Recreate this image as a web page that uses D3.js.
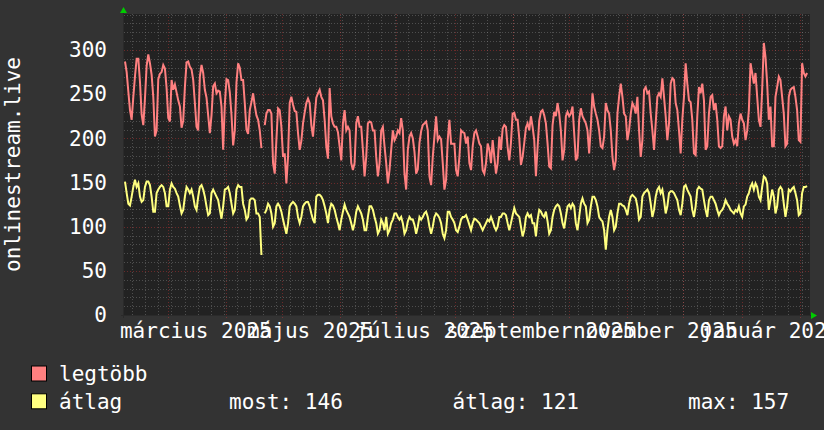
<!DOCTYPE html>
<html><head><meta charset="utf-8">
<script src="https://cdn.jsdelivr.net/npm/d3@7/dist/d3.min.js"></script>
<style>html,body{margin:0;padding:0;background:#333333;} svg{display:block}</style>
</head><body>
<svg id="chart" width="824" height="430"></svg>
<script>
// ---------- data ----------
const yAxisTitle = "onlinestream.live";
const seriesNames = ["legtöbb", "átlag"];
const seriesColors = ["#ff8080", "#ffff80"];
const labelMonths = ["2025-03-01", "2025-05-01", "2025-07-01", "2025-09-01", "2025-11-01", "2026-01-01"];
const monthLabels = ["március 2025", "május 2025", "július 2025", "szeptember 2025", "november 2025", "január 2026"];
const yTicks = [0, 50, 100, 150, 200, 250, 300];
const statLabels = ["most: 146", "átlag: 121", "max: 157"];
const timeStart = "2025-02-05T16:48";
const timeEnd = "2026-02-06T11:45";
const firstSample = "2025-02-06T05:36";
const stepHours = 21.29;

const maxValues = [
 287,275,253,232,221,247,270,290,290,264,227,215,245,282,295,285,272,247,202,209,
 267,273,275,283,279,257,223,219,266,255,261,252,243,236,212,220,258,286,287,281,
 278,266,240,213,209,270,283,274,255,246,226,206,226,259,262,251,254,253,236,187,
 238,267,266,252,227,192,209,263,285,280,266,266,240,210,205,232,241,251,237,226,
 221,209,189,null,215,228,232,232,228,172,160,198,234,232,213,179,183,149,179,240,
 247,238,231,230,206,187,197,217,229,240,245,240,215,202,225,246,251,255,247,243,
 221,191,177,257,225,217,213,213,207,191,175,217,232,209,213,209,172,164,172,217,
 225,213,213,187,157,179,217,219,218,209,209,179,157,172,209,213,191,172,149,164,
 187,209,198,
 202,209,206,223,209,160,142,187,202,206,200,185,160,165,195,208,215,217,219,209,
 157,147,179,202,225,198,202,199,172,142,153,198,221,194,194,194,164,157,179,209,
 207,206,194,202,172,164,191,206,209,202,194,191,164,160,172,194,187,172,198,179,
 160,172,202,187,211,215,213,190,175,195,228,229,221,221,200,170,179,195,212,217,
 209,225,213,
 198,157,190,220,230,232,226,217,194,168,166,215,230,225,240,228,209,175,187,225,
 230,225,228,236,206,175,179,221,234,225,221,217,209,183,213,251,236,228,221,209,
 191,189,202,240,232,228,209,179,164,175,228,247,262,247,228,225,198,209,228,240,
 236,228,247,209,179,198,255,258,251,253,228,209,187,217,247,251,247,268,247,225,
 198,217,262,
 268,266,240,232,209,183,221,247,285,262,243,241,221,183,181,225,258,251,262,243,
 187,191,228,247,249,232,240,221,191,189,191,225,236,209,225,221,202,194,198,191,
 217,228,221,217,198,209,232,285,274,262,274,247,221,213,255,308,292,262,221,236,
 191,191,247,258,270,266,247,228,191,194,247,255,257,258,247,232,198,196,285,274,
 270,274
];

const avgValues = [
 151,138,126,124,134,145,153,145,149,134,128,130,145,151,151,147,134,117,117,138,
 142,145,147,145,138,123,123,142,149,145,143,138,134,124,115,119,134,145,142,138,
 142,134,123,119,134,145,147,142,134,123,113,115,138,142,138,134,130,119,109,123,
 142,143,145,138,126,115,119,142,147,145,145,126,119,108,111,130,132,132,130,115,
 115,111,68,null,115,119,126,123,115,100,104,123,126,123,117,108,100,92,104,123,
 126,128,126,123,111,104,111,123,126,128,128,123,115,108,104,134,136,136,134,130,
 123,115,104,119,126,124,119,111,104,96,108,117,125,119,115,111,104,96,104,117,
 123,119,115,108,96,96,111,123,123,119,111,104,92,96,108,104,96,111,92,96,
 104,108,115,
 115,111,108,111,104,92,96,106,111,108,108,102,92,100,111,108,111,115,117,111,
 100,92,100,111,115,113,110,104,92,87,96,117,117,111,108,104,96,94,100,108,
 111,111,113,108,102,96,104,109,108,106,104,100,96,100,104,108,106,111,106,100,
 96,100,111,111,115,115,113,104,96,104,113,121,115,113,111,100,89,96,111,115,
 111,113,104,
 104,89,108,119,117,113,111,117,106,92,96,111,119,123,125,123,115,104,98,111,
 123,125,121,126,123,104,96,111,126,132,126,123,104,108,123,134,134,130,123,111,
 108,106,96,74,96,111,119,111,96,100,115,126,126,124,123,119,113,126,134,136,
 134,132,123,108,111,134,138,140,142,138,126,111,119,134,142,145,138,142,130,115,
 123,138,140,
 140,138,134,130,119,113,126,145,147,142,138,134,119,111,123,142,145,143,142,130,
 119,111,130,134,134,130,126,119,113,117,119,123,130,126,123,119,117,115,119,117,
 123,115,111,123,125,134,138,145,149,142,149,145,134,130,145,157,155,149,119,130,
 142,134,115,123,142,145,142,126,111,123,142,140,143,145,138,130,113,115,138,145,
 145,146
];

// ---------- layout ----------
const W = 824, H = 430;
const plot = {left: 124, right: 810, top: 14, bottom: 315};
const FONT = "'DejaVu Sans Mono', monospace";
const svg = d3.select("#chart");

const x = d3.scaleTime()
  .domain([new Date(timeStart), new Date(timeEnd)])
  .range([plot.left, plot.right]);
const y = d3.scaleLinear().domain([0, 300]).range([plot.bottom, 50]);
const yTop = y.invert(plot.top);

svg.append("rect").attr("width", W).attr("height", H).attr("fill", "#333333");
svg.append("rect").attr("x", plot.left).attr("y", plot.top)
  .attr("width", plot.right - plot.left).attr("height", plot.bottom - plot.top)
  .attr("fill", "#222222");

const grid = svg.append("g").attr("shape-rendering", "crispEdges");
const minorColor = "rgba(140,140,140,0.42)";
const majorColor = "rgba(255,60,60,0.33)";

// horizontal minor (every 10)
grid.selectAll(".hmin").data(d3.range(10, yTop, 10).filter(v => v % 50 !== 0))
  .join("line").attr("x1", plot.left).attr("x2", plot.right)
  .attr("y1", d => Math.round(y(d)) + 0.5).attr("y2", d => Math.round(y(d)) + 0.5)
  .attr("stroke", minorColor).attr("stroke-dasharray", "1,2");
// vertical minor (weeks)
const weeks = d3.timeMonday.range(x.domain()[0], x.domain()[1]);
grid.selectAll(".vmin").data(weeks).join("line")
  .attr("x1", d => Math.round(x(d)) + 0.5).attr("x2", d => Math.round(x(d)) + 0.5)
  .attr("y1", plot.top).attr("y2", plot.bottom)
  .attr("stroke", minorColor).attr("stroke-dasharray", "1,2");
// horizontal major
grid.selectAll(".hmaj").data(yTicks.filter(v => v > 0))
  .join("line").attr("x1", plot.left).attr("x2", plot.right)
  .attr("y1", d => Math.round(y(d)) + 0.5).attr("y2", d => Math.round(y(d)) + 0.5)
  .attr("stroke", majorColor).attr("stroke-dasharray", "1,2");
// vertical major (months)
const months = d3.timeMonth.range(x.domain()[0], x.domain()[1]);
grid.selectAll(".vmaj").data(months).join("line")
  .attr("x1", d => Math.round(x(d)) + 0.5).attr("x2", d => Math.round(x(d)) + 0.5)
  .attr("y1", plot.top).attr("y2", plot.bottom + 3)
  .attr("stroke", majorColor).attr("stroke-dasharray", "1,2");

// ---------- series ----------
const t0 = new Date(firstSample).getTime();
const toPoints = vals => vals.map((v, i) => ({t: new Date(t0 + i * stepHours * 3600e3), v}));
const line = d3.line().defined(d => d.v !== null).x(d => x(d.t)).y(d => y(d.v));
[maxValues, avgValues].forEach((vals, i) => {
  svg.append("path").datum(toPoints(vals))
    .attr("d", line).attr("fill", "none")
    .attr("stroke", seriesColors[i]).attr("stroke-width", 2)
    .attr("stroke-linejoin", "miter");
});

// ---------- axes ----------
svg.append("line").attr("x1", plot.left - 3).attr("x2", plot.right + 3)
  .attr("y1", plot.bottom + 0.5).attr("y2", plot.bottom + 0.5).attr("stroke", "#2a2a2a");
svg.append("line").attr("x1", plot.left - 0.5).attr("x2", plot.left - 0.5)
  .attr("y1", plot.bottom + 3).attr("y2", plot.top - 4).attr("stroke", "#2a2a2a");
// arrows
svg.append("path").attr("fill", "#00cc00")
  .attr("d", `M${plot.left - 4},${plot.top - 1} L${plot.left + 3},${plot.top - 1} L${plot.left - 0.5},${plot.top - 7} Z`);
svg.append("path").attr("fill", "#00cc00")
  .attr("d", `M${plot.right + 1},${plot.bottom - 3} L${plot.right + 1},${plot.bottom + 4} L${plot.right + 7},${plot.bottom + 0.5} Z`);

// y tick labels
svg.append("g").selectAll("text").data(yTicks).join("text")
  .attr("x", 107).attr("y", d => y(d) + 7.3)
  .attr("text-anchor", "end").attr("fill", "#ffffff")
  .attr("font-family", FONT).attr("font-size", 21)
  .text(d => d);

// x labels (centred mid-month)
svg.append("g").selectAll("text").data(labelMonths).join("text")
  .attr("x", (d) => x(d3.timeDay.offset(new Date(d + "T00:00"), 15)))
  .attr("y", 338)
  .attr("text-anchor", "middle").attr("fill", "#ffffff")
  .attr("font-family", FONT).attr("font-size", 21)
  .text((d, i) => monthLabels[i]);

// y title
svg.append("text")
  .attr("transform", `translate(19.5,${(plot.top + plot.bottom) / 2}) rotate(-90)`)
  .attr("text-anchor", "middle").attr("fill", "#ffffff")
  .attr("font-family", FONT).attr("font-size", 21)
  .text(yAxisTitle);

// legend
const legendRows = [373.5, 401.3];
seriesNames.forEach((name, i) => {
  svg.append("rect").attr("x", 31.5).attr("y", legendRows[i] - 7.5)
    .attr("width", 15).attr("height", 15)
    .attr("fill", seriesColors[i]).attr("stroke", "#000000").attr("stroke-width", 1);
  svg.append("text").attr("x", 59).attr("y", legendRows[i] + 7.5)
    .attr("fill", "#ffffff").attr("font-family", FONT).attr("font-size", 21)
    .text(name);
});
const statX = [229, 452.5, 688];
statLabels.forEach((s, i) => {
  svg.append("text").attr("x", statX[i]).attr("y", legendRows[1] + 7.5)
    .attr("fill", "#ffffff").attr("font-family", FONT).attr("font-size", 21)
    .text(s);
});
</script>
</body></html>
